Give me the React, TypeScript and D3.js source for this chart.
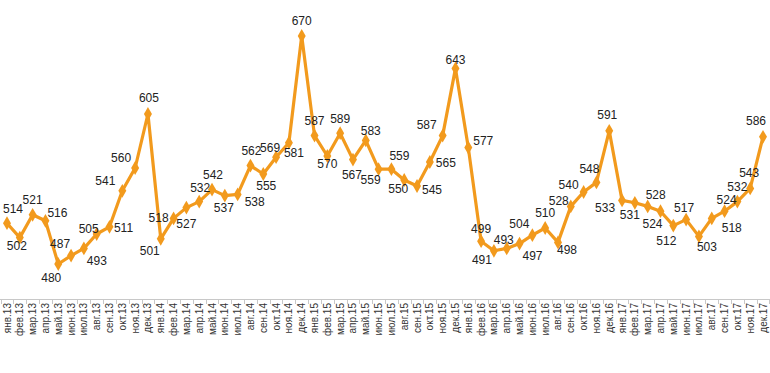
import { useEffect, useRef } from "react";
import * as d3 from "d3";

const months = ["янв", "фев", "мар", "апр", "май", "июн", "июл", "авг", "сен", "окт", "ноя", "дек"];
const years = ["13", "14", "15", "16", "17"];
const categories = years.flatMap(y => months.map(m => `${m}.${y}`));

const values2013 = [514, 502, 521, 516, 480, 487, 493, 505, 511, 541, 560, 605];
const values2014 = [501, 518, 527, 532, 542, 537, 538, 562, 555, 569, 581, 670];
const values2015 = [587, 570, 589, 567, 583, 559, 559, 550, 545, 565, 587, 643];
const values2016 = [577, 499, 491, 493, 497, 504, 510, 498, 528, 540, 548, 591];
const values2017 = [533, 531, 528, 524, 512, 517, 503, 518, 524, 532, 543, 586];
const values = [...values2013, ...values2014, ...values2015, ...values2016, ...values2017];

// label centre offset from its marker, [dx, dy] in px
const labelOffset: [number, number][] = [
  [6, -15], [-3, 8], [0, -15], [12, -8], [-7, 14], [-11, -12], [13, 12], [-8, -5], [14, 1], [-17, -10], [-14, -10], [1, -16],
  [-11, 12], [-15, -1], [0, 16], [1, -14], [1, -15], [-1, 12], [17, 7], [1, -15], [3, 12], [-6, -10], [5, 10], [0, -15],
  [0, -15], [0, 8], [0, -15], [-1, 15], [5, -10], [-8, 10], [8, -14], [-6, 9], [15, 4], [16, 1], [-16, -11], [0, -9],
  [15, -7], [0, -13], [-12, 9], [-3, -9], [13, 12], [-13, -12], [0, -15], [9, 7], [-12, -6], [-15, -7], [-7, -14], [-2, -16],
  [-17, 7], [-5, 12], [8, -12], [-8, 12], [-7, 15], [-2, -12], [8, 10], [20, 9], [2, -12], [0, -15], [-1, -16], [-7, -16],
];

const W = 770;
const H = 373;
const ORANGE = "#F29A1D";

export default function App() {
  const svgRef = useRef<SVGSVGElement>(null);

  useEffect(() => {
    document.body.style.margin = "0";
    const svg = d3.select(svgRef.current);
    svg.selectAll("*").remove();

    const x = d3.scalePoint<string>().domain(categories).range([7, 763]);
    const y = d3.scaleLinear().domain([450, 700]).range([300, 0]);
    const step = x.step();

    // axis
    svg.append("line")
      .attr("x1", 0).attr("x2", W)
      .attr("y1", 299.5).attr("y2", 299.5)
      .attr("stroke", "#c8c8c8").attr("stroke-width", 1);

    const tickPos = d3.range(categories.length + 1).map(i => x(categories[0])! - step / 2 + i * step);
    svg.append("g").selectAll("line")
      .data(tickPos)
      .enter().append("line")
      .attr("x1", d => Math.round(d) + 0.5).attr("x2", d => Math.round(d) + 0.5)
      .attr("y1", 300).attr("y2", 304)
      .attr("stroke", "#c8c8c8");

    svg.append("g").selectAll("text")
      .data(categories)
      .enter().append("text")
      .attr("transform", d => `translate(${x(d)! + 3.5},303) rotate(-90)`)
      .attr("text-anchor", "end")
      .attr("font-family", "'Liberation Sans', Arial, sans-serif")
      .attr("font-size", "10px")
      .attr("fill", "#333")
      .text(d => d);

    // line
    const line = d3.line<number>()
      .x((_, i) => x(categories[i])!)
      .y(d => y(d));

    svg.append("path")
      .datum(values)
      .attr("d", line)
      .attr("fill", "none")
      .attr("stroke", ORANGE)
      .attr("stroke-width", 3.2)
      .attr("stroke-linejoin", "round");

    // diamond markers
    const diamond = d3.symbol().type(d3.symbolDiamond).size(55);
    svg.append("g").selectAll("path")
      .data(values)
      .enter().append("path")
      .attr("d", diamond)
      .attr("transform", (d, i) => `translate(${x(categories[i])},${y(d)})`)
      .attr("fill", ORANGE);

    // value labels
    svg.append("g").selectAll("text")
      .data(values)
      .enter().append("text")
      .attr("x", (d, i) => x(categories[i])! + labelOffset[i][0])
      .attr("y", (d, i) => y(d) + labelOffset[i][1] + 4.3)
      .attr("text-anchor", "middle")
      .attr("font-family", "'Liberation Sans', Arial, sans-serif")
      .attr("font-size", "12px")
      .attr("fill", "#222")
      .text(d => d);
  }, []);

  return (
    <svg
      ref={svgRef}
      width={W}
      height={H}
      viewBox={`0 0 ${W} ${H}`}
      style={{ display: "block", background: "#fff" }}
    />
  );
}
